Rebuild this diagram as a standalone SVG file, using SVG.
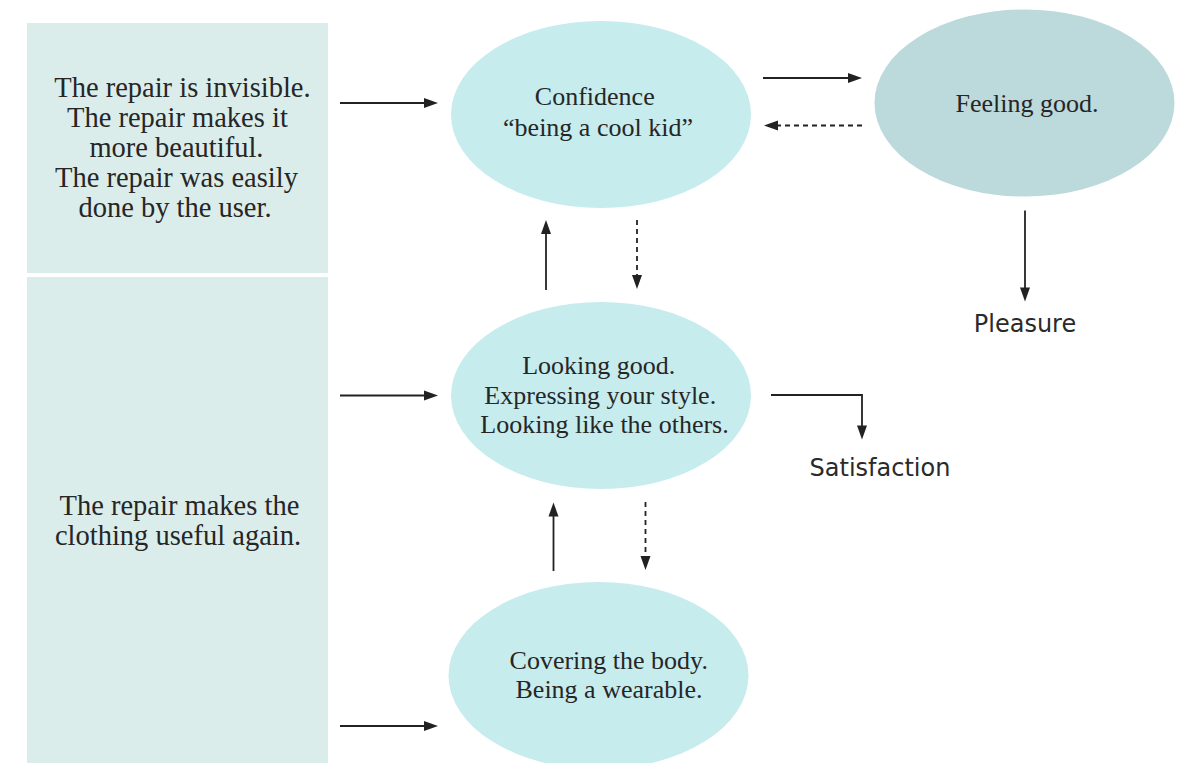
<svg xmlns="http://www.w3.org/2000/svg" width="1183" height="763" viewBox="0 0 1183 763">
  <style>
    .panel { fill: #dbedeb; }
    .oval { fill: #c6ecee; }
    .oval-dark { fill: #bcd9db; }
    .serif { font-family: "Liberation Serif", "Times New Roman", serif; fill: #262626; text-anchor: middle; }
    .panel-text { font-size: 28.5px; }
    .oval-text { font-size: 26px; }
    .sans { font-family: "DejaVu Sans", "Liberation Sans", sans-serif; font-size: 24px; fill: #2a2a2a; text-anchor: middle; }
    .link { fill: none; stroke: #222; stroke-width: 1.8; }
    .dashed { stroke-dasharray: 5 4; }
  </style>
  <defs>
    <marker id="head" markerUnits="userSpaceOnUse" markerWidth="14" markerHeight="10" refX="2" refY="5" orient="auto" overflow="visible">
      <path d="M0,0 L14,5 L0,10 Z" fill="#222"/>
    </marker>
  </defs>

  <rect width="1183" height="763" fill="#ffffff"/>

  <!-- left panels -->
  <g id="panel-appearance">
    <rect class="panel" x="27" y="23" width="301" height="250"/>
    <text class="serif panel-text">
      <tspan x="186" y="96.5">The repair is invisible.</tspan>
      <tspan x="181" y="126.5">The repair makes it</tspan>
      <tspan x="180" y="156.5">more beautiful.</tspan>
      <tspan x="180" y="186.5">The repair was easily</tspan>
      <tspan x="175" y="216.5">done by the user.</tspan>
    </text>
  </g>
  <g id="panel-usefulness">
    <rect class="panel" x="27" y="277" width="301" height="486"/>
    <text class="serif panel-text">
      <tspan x="183" y="515">The repair makes the</tspan>
      <tspan x="178" y="545">clothing useful again.</tspan>
    </text>
  </g>

  <!-- needs -->
  <g id="node-confidence">
    <ellipse class="oval" cx="601" cy="114.5" rx="150" ry="93.5"/>
    <text class="serif oval-text">
      <tspan x="598" y="105">Confidence</tspan>
      <tspan x="598" y="135.5">“being a cool kid”</tspan>
    </text>
  </g>
  <g id="node-feeling-good">
    <ellipse class="oval-dark" cx="1024.5" cy="103" rx="150" ry="93.5"/>
    <text class="serif oval-text" x="1027" y="112">Feeling good.</text>
  </g>
  <g id="node-looking-good">
    <ellipse class="oval" cx="601" cy="395.5" rx="150" ry="93.5"/>
    <text class="serif oval-text">
      <tspan x="602" y="374">Looking good.</tspan>
      <tspan x="603.5" y="403.5">Expressing your style.</tspan>
      <tspan x="604.5" y="433">Looking like the others.</tspan>
    </text>
  </g>
  <g id="node-covering">
    <ellipse class="oval" cx="598.5" cy="675.5" rx="150" ry="93.5"/>
    <text class="serif oval-text">
      <tspan x="612" y="668.5">Covering the body.</tspan>
      <tspan x="609" y="698">Being a wearable.</tspan>
    </text>
  </g>

  <!-- outcomes -->
  <g id="label-pleasure">
    <text class="sans" x="1025" y="332">Pleasure</text>
  </g>
  <g id="label-satisfaction">
    <text class="sans" x="880" y="475.5">Satisfaction</text>
  </g>

  <!-- connectors -->
  <g id="connectors">
    <line class="link" x1="340" y1="103" x2="426" y2="103" marker-end="url(#head)"/>
    <line class="link" x1="340" y1="395.5" x2="426" y2="395.5" marker-end="url(#head)"/>
    <line class="link" x1="340" y1="726" x2="426" y2="726" marker-end="url(#head)"/>

    <line class="link" x1="763" y1="78" x2="850" y2="78" marker-end="url(#head)"/>
    <line class="link dashed" x1="862" y1="125.5" x2="776" y2="125.5" marker-end="url(#head)"/>

    <line class="link" x1="546" y1="290" x2="546" y2="232" marker-end="url(#head)"/>
    <line class="link dashed" x1="637" y1="220" x2="637" y2="277" marker-end="url(#head)"/>

    <line class="link" x1="553.5" y1="571" x2="553.5" y2="514.5" marker-end="url(#head)"/>
    <line class="link dashed" x1="645.5" y1="502" x2="645.5" y2="558" marker-end="url(#head)"/>

    <line class="link" x1="1025" y1="210.5" x2="1025" y2="289.5" marker-end="url(#head)"/>
    <polyline class="link" points="771,395 862,395 862,427.5" marker-end="url(#head)"/>
  </g>
</svg>
